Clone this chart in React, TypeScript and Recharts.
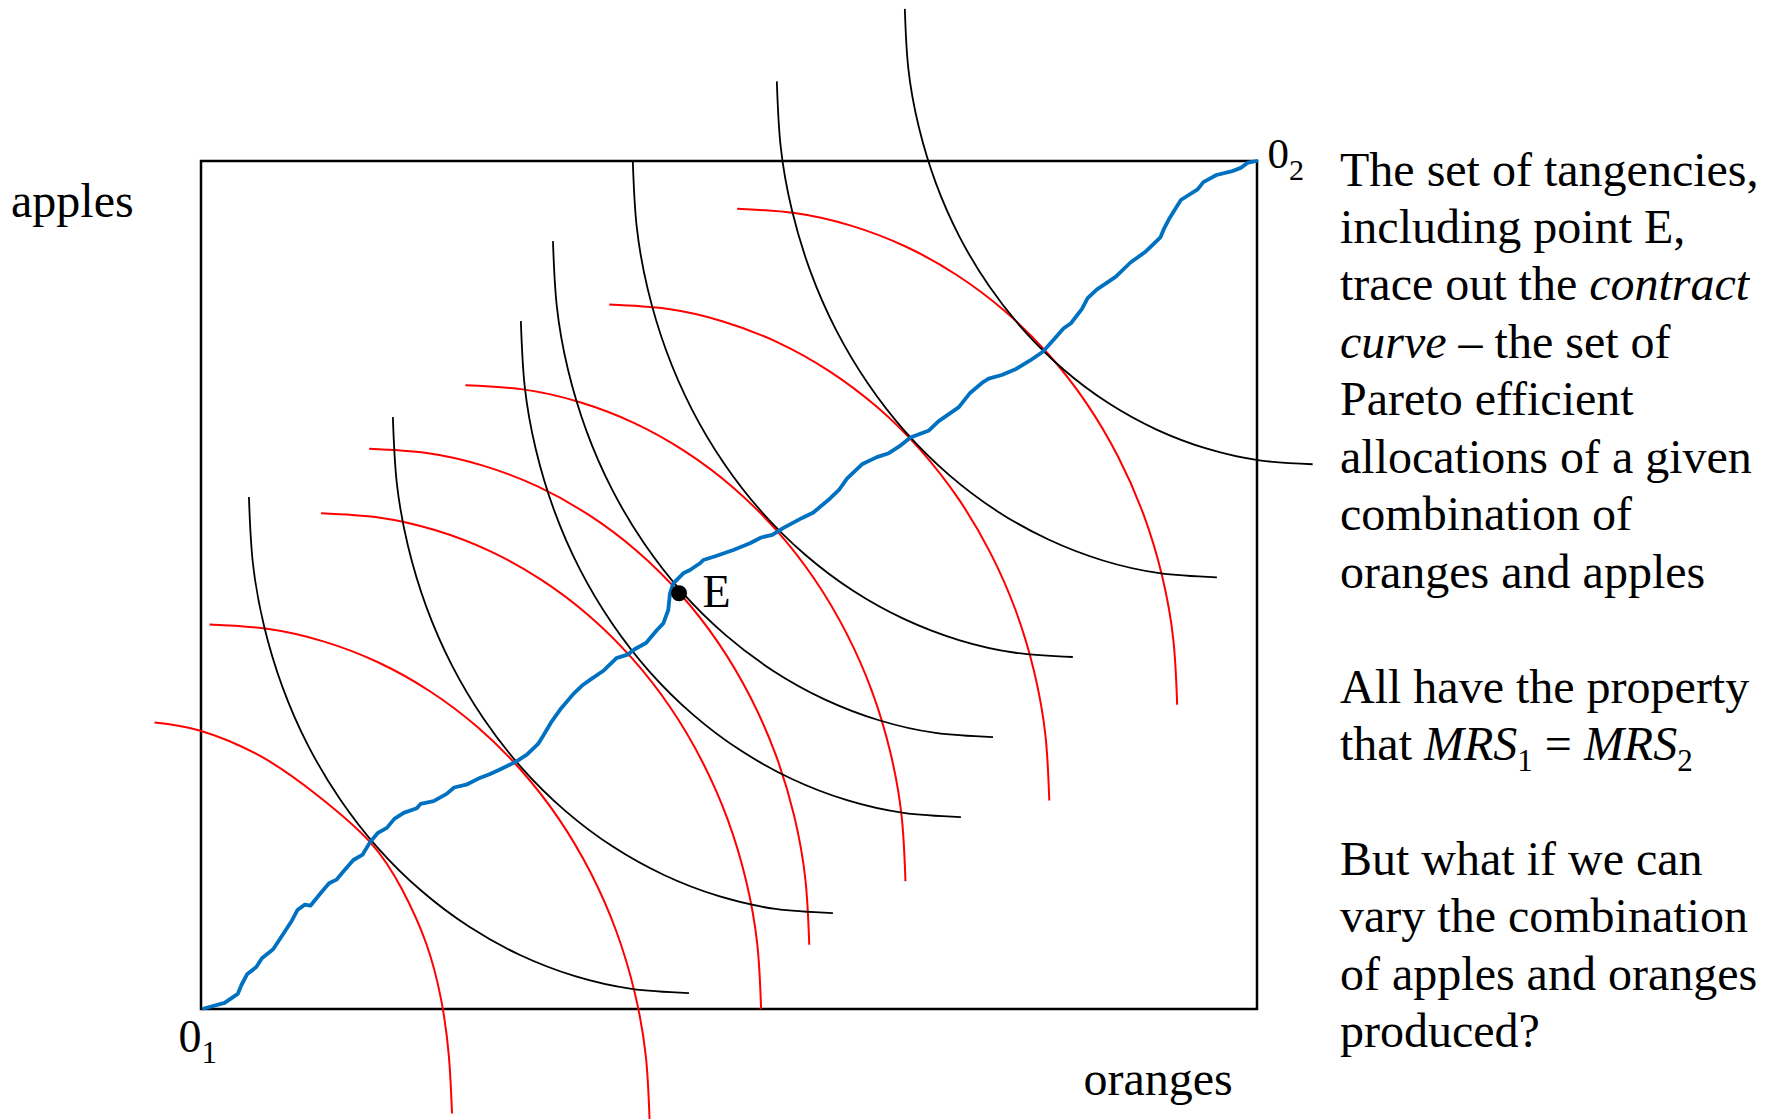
import { LineChart, Line, XAxis, YAxis, ReferenceArea, ReferenceDot } from "recharts";

type P = [number, number];

// Edgeworth box: oranges 0..100 across, apples 0..100 up.
// consumer 1 indifference curves (black), convex to 0_1
const black1: P[] = [[4.54, 60.37], [4.9, 52.74], [5.96, 45.23], [7.71, 37.99], [10.12, 31.12], [13.15, 24.77], [16.74, 19.01], [20.84, 13.97], [25.37, 9.72], [30.26, 6.34], [35.42, 3.87], [40.77, 2.38], [46.21, 1.88]];
const black2: P[] = [[18.17, 69.8], [18.53, 62.17], [19.59, 54.66], [21.34, 47.42], [23.75, 40.55], [26.78, 34.2], [30.37, 28.44], [34.47, 23.4], [39.0, 19.15], [43.89, 15.77], [49.05, 13.3], [54.4, 11.81], [59.84, 11.31]];
const black3: P[] = [[30.29, 81.12], [30.65, 73.49], [31.71, 65.98], [33.46, 58.74], [35.87, 51.87], [38.9, 45.52], [42.49, 39.76], [46.59, 34.72], [51.12, 30.47], [56.01, 27.09], [61.17, 24.62], [66.52, 23.13], [71.96, 22.63]];
const black4: P[] = [[33.33, 90.55], [33.69, 82.92], [34.75, 75.41], [36.5, 68.17], [38.91, 61.3], [41.94, 54.95], [45.53, 49.19], [49.63, 44.15], [54.16, 39.9], [59.05, 36.52], [64.21, 34.05], [69.56, 32.56], [75.0, 32.06]];
const black5: P[] = [[40.89, 100.0], [41.25, 92.37], [42.31, 84.86], [44.06, 77.62], [46.47, 70.75], [49.5, 64.4], [53.09, 58.64], [57.19, 53.6], [61.72, 49.35], [66.61, 45.97], [71.77, 43.5], [77.12, 42.01], [82.56, 41.51]];
const black6: P[] = [[54.53, 109.39], [54.89, 101.76], [55.95, 94.25], [57.7, 87.01], [60.11, 80.14], [63.14, 73.79], [66.73, 68.03], [70.83, 62.99], [75.36, 58.74], [80.25, 55.36], [85.41, 52.89], [90.76, 51.4], [96.2, 50.9]];
const black7: P[] = [[66.65, 117.94], [66.98, 110.93], [67.97, 104.04], [69.59, 97.39], [71.82, 91.09], [74.63, 85.25], [77.96, 79.97], [81.76, 75.33], [85.96, 71.43], [90.49, 68.33], [95.27, 66.07], [100.23, 64.7], [105.27, 64.24]];

// consumer 2 indifference curves (red), convex to 0_2
const red1: P[] = [[-4.4, 33.79], [-0.06, 32.82], [5.77, 29.72], [11.07, 25.15], [16.01, 19.68], [19.07, 14.03], [21.3, 7.81], [22.72, 1.23], [23.47, -5.52], [23.77, -12.32]];
const red2: P[] = [[0.81, 45.34], [6.25, 44.84], [11.59, 43.35], [16.76, 40.89], [21.64, 37.5], [26.18, 33.25], [30.27, 28.21], [33.87, 22.45], [36.89, 16.09], [39.31, 9.23], [41.06, 1.99], [42.12, -5.52], [42.48, -13.15]];
const red3: P[] = [[11.37, 58.47], [16.81, 57.97], [22.15, 56.48], [27.32, 54.02], [32.2, 50.63], [36.74, 46.38], [40.83, 41.34], [44.43, 35.58], [47.45, 29.22], [49.87, 22.36], [51.62, 15.12], [52.68, 7.61], [53.04, -0.02]];
const red4: P[] = [[15.93, 66.07], [21.37, 65.57], [26.71, 64.08], [31.88, 61.62], [36.76, 58.23], [41.3, 53.98], [45.39, 48.94], [48.99, 43.18], [52.01, 36.82], [54.43, 29.96], [56.18, 22.72], [57.24, 15.21], [57.6, 7.58]];
const red5: P[] = [[25.04, 73.57], [30.48, 73.07], [35.82, 71.58], [40.99, 69.12], [45.87, 65.73], [50.41, 61.48], [54.5, 56.44], [58.1, 50.68], [61.12, 44.32], [63.54, 37.46], [65.29, 30.22], [66.35, 22.71], [66.71, 15.08]];
const red6: P[] = [[38.66, 83.07], [44.1, 82.57], [49.44, 81.08], [54.61, 78.62], [59.49, 75.23], [64.03, 70.98], [68.12, 65.94], [71.72, 60.18], [74.74, 53.82], [77.16, 46.96], [78.91, 39.72], [79.97, 32.21], [80.33, 24.58]];
const red7: P[] = [[50.77, 94.37], [56.21, 93.87], [61.55, 92.38], [66.72, 89.92], [71.6, 86.53], [76.14, 82.28], [80.23, 77.24], [83.83, 71.48], [86.85, 65.12], [89.27, 58.26], [91.02, 51.02], [92.08, 43.51], [92.44, 35.88]];

// contract curve (hand drawn, wobbly)
const contract: P[] = [
  [0.28, 0.06], [2.23, 0.72], [3.48, 1.78], [3.83, 2.83], [4.36, 4.09], [5.24, 4.94], [5.77, 5.99], [6.83, 7.04],
  [7.72, 8.73], [8.6, 10.41], [9.13, 11.67], [9.84, 12.31], [10.36, 12.18], [11.42, 13.79], [12.13, 14.83], [12.84, 15.26],
  [13.54, 16.31], [14.43, 17.57], [15.31, 18.21], [16.01, 19.68], [16.72, 20.73], [17.6, 21.36], [18.31, 22.42], [19.19, 23.13],
  [20.44, 23.68], [20.79, 24.19], [22.03, 24.52], [23.26, 25.37], [23.97, 26.12], [25.21, 26.5], [26.27, 27.17], [27.33, 27.68],
  [28.21, 28.18], [29.8, 29.15], [30.86, 30.0], [31.92, 31.26], [32.45, 32.31], [33.15, 33.79], [34.03, 35.34], [35.27, 37.16],
  [36.16, 38.21], [36.87, 38.84], [38.11, 39.89], [38.46, 40.32], [39.34, 41.37], [40.4, 41.79], [41.1, 42.45], [42.14, 43.16],
  [43.18, 44.69], [43.78, 45.48], [44.25, 47.05], [44.41, 49.02], [44.73, 50.2], [45.67, 51.38], [46.31, 51.77], [47.25, 52.56],
  [47.57, 52.95], [48.77, 53.42], [50.41, 54.13], [51.99, 54.92], [53.04, 55.6], [54.1, 55.9], [55.16, 56.73], [56.93, 57.91],
  [57.99, 58.55], [59.4, 60.02], [60.46, 61.29], [61.17, 62.55], [62.59, 64.23], [64.0, 65.08], [65.06, 65.5], [66.12, 66.34],
  [67.18, 67.39], [68.94, 68.23], [69.83, 69.29], [71.77, 70.98], [72.83, 72.65], [74.06, 73.93], [74.59, 74.34], [75.83, 74.76],
  [77.07, 75.4], [78.48, 76.45], [79.72, 77.5], [80.78, 78.97], [81.67, 80.24], [82.38, 80.87], [83.43, 82.56], [83.96, 83.82],
  [84.85, 84.87], [86.61, 86.34], [88.02, 88.03], [89.43, 89.29], [90.85, 90.98], [91.2, 92.03], [91.73, 93.29], [92.79, 95.4],
  [94.38, 96.66], [94.92, 97.51], [96.16, 98.35], [97.57, 98.77], [98.46, 99.19], [99.16, 99.82], [99.96, 100.0],
];

const pointE: P = [45.27, 49.03];

type Seg = { t: string; it?: boolean; sub?: boolean };
const noteLines: Seg[][] = [
  [{ t: "The set of tangencies," }],
  [{ t: "including point E," }],
  [{ t: "trace out the " }, { t: "contract", it: true }],
  [{ t: "curve", it: true }, { t: " – the set of" }],
  [{ t: "Pareto efficient" }],
  [{ t: "allocations of a given" }],
  [{ t: "combination of" }],
  [{ t: "oranges and apples" }],
  [],
  [{ t: "All have the property" }],
  [{ t: "that " }, { t: "MRS", it: true }, { t: "1", sub: true }, { t: " = " }, { t: "MRS", it: true }, { t: "2", sub: true }],
  [],
  [{ t: "But what if we can" }],
  [{ t: "vary the combination" }],
  [{ t: "of apples and oranges" }],
  [{ t: "produced?" }],
];

// layout (px)
const W = 1776;
const H = 1119;
const BOX_L = 201;
const BOX_R = 1257;
const BOX_T = 161;
const BOX_B = 1009;
const pxX = (BOX_R - BOX_L) / 100;
const pxY = (BOX_B - BOX_T) / 100;
const X_DOMAIN: [number, number] = [-BOX_L / pxX, (W - BOX_L) / pxX];
const Y_DOMAIN: [number, number] = [-(H - BOX_B) / pxY, BOX_B / pxY];

const SERIF = "'Liberation Serif', 'Times New Roman', serif";
const RED = "#FF0000";
const BLUE = "#0070C0";
const NOTE_SIZE = 48;

const toPts = (a: P[]) => a.map(([x, y]) => ({ x, y }));

const blacks = [black1, black2, black3, black4, black5, black6, black7];
const reds = [red1, red2, red3, red4, red5, red6, red7];

function Note() {
  const x0 = 1340;
  const y0 = 185.5;
  const step = 57.45;
  return (
    <>
      {noteLines.map((line, i) => {
        let shifted = false;
        return (
          <text key={i} x={x0} y={y0 + i * step} fontSize={NOTE_SIZE} fontFamily={SERIF} fill="#000" style={{ whiteSpace: "pre" }}>
            {line.map((s, j) => {
              let dy = 0;
              if (s.sub && !shifted) {
                dy = 11;
                shifted = true;
              } else if (!s.sub && shifted) {
                dy = -11;
                shifted = false;
              }
              return (
                <tspan key={j} dy={dy || undefined} fontStyle={s.it ? "italic" : "normal"} fontSize={s.sub ? 31 : NOTE_SIZE}>
                  {s.t}
                </tspan>
              );
            })}
          </text>
        );
      })}
    </>
  );
}

export default function App() {
  return (
    <div style={{ position: "absolute", left: 0, top: 0, width: W, height: H, background: "#fff" }}>
      <LineChart width={W} height={H} margin={{ top: 0, right: 0, bottom: 0, left: 0 }}>
        <XAxis type="number" dataKey="x" domain={X_DOMAIN} allowDataOverflow hide />
        <YAxis type="number" dataKey="y" domain={Y_DOMAIN} allowDataOverflow hide />
        <ReferenceArea x1={0} x2={100} y1={0} y2={100} fill="none" fillOpacity={0} stroke="#000" strokeWidth={2.5} />
        {reds.map((r, i) => (
          <Line key={"r" + i} data={toPts(r)} dataKey="y" type="natural" stroke={RED} strokeWidth={2} dot={false} activeDot={false} isAnimationActive={false} />
        ))}
        {blacks.map((b, i) => (
          <Line key={"b" + i} data={toPts(b)} dataKey="y" type="natural" stroke="#000" strokeWidth={1.8} dot={false} activeDot={false} isAnimationActive={false} />
        ))}
        <Line data={toPts(contract)} dataKey="y" type="linear" stroke={BLUE} strokeWidth={3.8} strokeLinejoin="round" strokeLinecap="round" dot={false} activeDot={false} isAnimationActive={false} />
        <ReferenceDot x={pointE[0]} y={pointE[1]} r={8} fill="#000" stroke="none" />
      </LineChart>
      <svg width={W} height={H} style={{ position: "absolute", left: 0, top: 0, pointerEvents: "none" }}>
        <text x={11} y={217} fontSize={48} fontFamily={SERIF}>apples</text>
        <text x={1083.5} y={1095} fontSize={48} fontFamily={SERIF}>oranges</text>
        <text x={178.5} y={1052} fontSize={46} fontFamily={SERIF}>
          0<tspan dy={11} fontSize={31}>1</tspan>
        </text>
        <text x={1267.5} y={168} fontSize={43} fontFamily={SERIF}>
          0<tspan dy={12} fontSize={30}>2</tspan>
        </text>
        <text x={702.5} y={606.5} fontSize={46} fontFamily={SERIF}>E</text>
        <Note />
      </svg>
    </div>
  );
}
